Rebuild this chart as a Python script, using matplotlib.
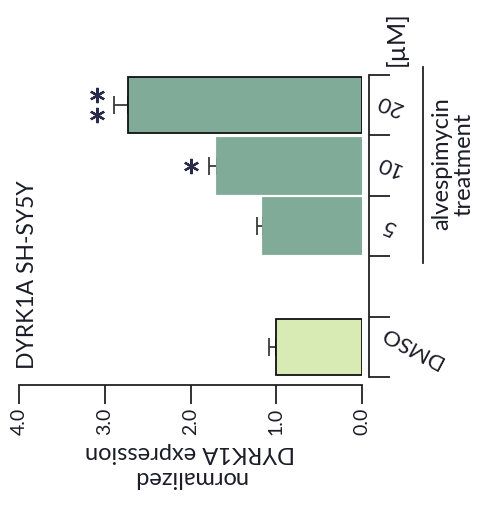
import matplotlib
matplotlib.use("Agg")
import matplotlib.pyplot as plt

plt.rcParams['font.family'] = ['Lato', 'DejaVu Sans']

# ---- data ----
positions = [0, 2, 3, 4]
labels = ["DMSO", "5", "10", "20"]
values = [1.00, 1.15, 1.69, 2.73]
errors = [0.09, 0.08, 0.10, 0.16]
colors = ["#d9ebb5", "#7fab98", "#7fab98", "#7fab98"]
edges = ["#111111", "#7fab98", "#7fab98", "#111111"]
n_stars = [0, 0, 1, 2]
value_ticks = [0.0, 1.0, 2.0, 3.0, 4.0]
value_ticklabels = ["0.0", "1.0", "2.0", "3.0", "4.0"]

W, H = 478, 505
fig = plt.figure(figsize=(W / 100, H / 100), dpi=100)
ax = fig.add_axes([19 / W, (H - 377) / H, (362 - 19) / W, (377 - 75) / H])

txtc = "#1c1c28"

for p, v, e, c, ec in zip(positions, values, errors, colors, edges):
    ax.barh(p, v, height=0.93, color=c, edgecolor=ec, linewidth=1.3, zorder=2)
    ax.errorbar(v, p, xerr=[[0], [e]], fmt="none", ecolor="#3a3a3a",
                elinewidth=1.3, capsize=6.5, capthick=1.3, zorder=1)

for p, v, e, n in zip(positions, values, errors, n_stars):
    if n == 1:
        ys = [p]
    elif n == 2:
        ys = [p - 0.17, p + 0.17]
    else:
        ys = []
    for yy in ys:
        ax.plot(v + e + 0.2, yy, marker=(6, 2, 0), markersize=11,
                markeredgewidth=1.6, color="#2a2a4a", clip_on=False)

ax.set_xlim(4.0, 0.0)
ax.set_ylim(-0.5, 4.5)

for s in ["left", "top"]:
    ax.spines[s].set_visible(False)
ax.spines["bottom"].set_position(("outward", 6))
ax.spines["bottom"].set_bounds(0, 4)
ax.spines["right"].set_position(("outward", 5))
ax.spines["right"].set_bounds(-0.5, 4.5)
for s in ["bottom", "right"]:
    ax.spines[s].set_linewidth(1.3)
    ax.spines[s].set_color("#222222")

ax.set_xticks(value_ticks)
ax.set_xticklabels(value_ticklabels, rotation=90, fontsize=14, color=txtc)
ax.tick_params(axis="x", direction="out", length=14, width=1.3, color="#222222", pad=2)

ax.yaxis.set_ticks_position("right")
ax.set_yticks([-0.5, 0.5, 1.5, 2.5, 3.5, 4.5])
ax.set_yticklabels([])
ax.tick_params(axis="y", direction="out", length=15, width=1.3, color="#222222")

ytr = ax.get_yaxis_transform()
lab_x = {"DMSO": 1.145, "5": 1.077, "10": 1.08, "20": 1.082}
lab_rot = {"DMSO": 152, "5": 158, "10": 158, "20": 158}
for p, l in zip(positions, labels):
    ax.text(lab_x[l], p, l, rotation=lab_rot[l], rotation_mode="anchor",
            ha="center", va="center", fontsize=16, color=txtc, transform=ytr)

# axis label (upside down)
fig.text(190 / W, 1 - 465 / H, "normalized\nDYRK1A expression", rotation=180,
         ha="center", va="center", fontsize=17, color=txtc, linespacing=1.2)

# title
fig.text(28 / W, 1 - 275 / H, "DYRK1A SH-SY5Y", rotation=90, ha="center",
         va="center", fontsize=16.5, color=txtc)

# treatment annotation
fig.text(453 / W, 1 - 164 / H, "alvespimycin\ntreatment", rotation=90,
         ha="center", va="center", fontsize=17, color=txtc, linespacing=1.05)
fig.add_artist(plt.Line2D([423 / W, 423 / W], [1 - 67 / H, 1 - 263 / H],
                          transform=fig.transFigure, color="#222222", lw=1.3))
fig.text(396 / W, 1 - 39 / H, "[µM]", rotation=90, ha="center", va="center",
         fontsize=18, color=txtc)

fig.savefig("out.png", dpi=100)
